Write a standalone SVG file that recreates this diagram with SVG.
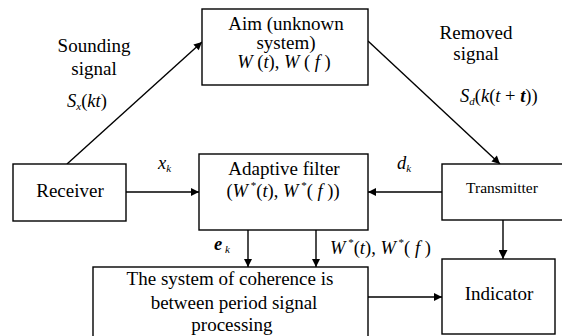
<svg xmlns="http://www.w3.org/2000/svg" width="562" height="336" viewBox="0 0 562 336">
<style>
  .box { fill: #fff; stroke: #000; stroke-width: 1.4; }
  text { font-family: "Liberation Serif", "Times New Roman", serif; fill: #000; }
  .t { font-size: 19px; text-anchor: middle; }
  .m { font-size: 18.5px; }
  .c { text-anchor: middle; }
  .i { font-style: italic; }
  .sub { font-size: 11px; font-style: italic; }
  .sup { font-size: 11px; }
  .ln { stroke: #000; stroke-width: 1.4; fill: none; }
</style>
<defs>
  <marker id="ah" viewBox="0 0 10 10" refX="10" refY="5" markerWidth="9" markerHeight="8" markerUnits="userSpaceOnUse" orient="auto">
    <path d="M0,0 L10,5 L0,10 z" fill="#000"/>
  </marker>
  <marker id="ah2" viewBox="0 0 10 10" refX="10" refY="5" markerWidth="10" markerHeight="9" markerUnits="userSpaceOnUse" orient="auto">
    <path d="M0,0 L10,5 L0,10 z" fill="#000"/>
  </marker>
</defs>

<g id="connectors">
  <line class="ln" x1="67" y1="164" x2="202" y2="42" marker-end="url(#ah)"/>
  <line class="ln" x1="368" y1="41" x2="500" y2="164" marker-end="url(#ah)"/>
  <line class="ln" x1="126" y1="192" x2="199" y2="192" marker-end="url(#ah)"/>
  <line class="ln" x1="442" y1="192" x2="368" y2="192" marker-end="url(#ah)"/>
  <line class="ln" x1="248" y1="230" x2="248" y2="267" marker-end="url(#ah)"/>
  <line class="ln" x1="316" y1="230" x2="316" y2="267" marker-end="url(#ah)"/>
  <line class="ln" x1="503" y1="220" x2="503" y2="259" stroke-width="2" marker-end="url(#ah2)"/>
  <line class="ln" x1="368" y1="297" x2="442" y2="297" marker-end="url(#ah)"/>
</g>

<g id="aim">
  <rect class="box" x="202" y="9" width="166" height="76"/>
  <text class="t" x="286" y="30">Aim (unknown</text>
  <text class="t" x="286" y="49">system)</text>
  <text class="m c" x="284" y="68"><tspan class="i">W</tspan> (<tspan class="i">t</tspan>), <tspan class="i">W</tspan> ( <tspan class="i">f</tspan> )</text>
</g>

<g id="receiver">
  <rect class="box" x="13" y="164" width="113" height="57"/>
  <text class="t" x="70" y="197">Receiver</text>
</g>

<g id="adaptive">
  <rect class="box" x="199" y="154" width="169" height="76"/>
  <text class="t" x="284" y="175">Adaptive filter</text>
  <text class="m c" x="283" y="197">(<tspan class="i">W</tspan><tspan class="sup" dy="-8"> *</tspan><tspan dy="8">(</tspan><tspan class="i">t</tspan>), <tspan class="i">W</tspan><tspan class="sup" dy="-8"> *</tspan><tspan dy="8">( </tspan><tspan class="i">f</tspan> ))</text>
</g>

<g id="transmitter">
  <rect class="box" x="442" y="164" width="121" height="56"/>
  <text class="t" x="502" y="193" style="font-size:15.5px">Transmitter</text>
</g>

<g id="coherence">
  <rect class="box" x="93" y="267" width="275" height="74"/>
  <text class="t" x="230" y="285">The system of coherence is</text>
  <text class="t" x="234" y="309">between period signal</text>
  <text class="t" x="232" y="331">processing</text>
</g>

<g id="indicator">
  <rect class="box" x="442" y="259" width="113" height="75"/>
  <text class="t" x="499" y="300">Indicator</text>
</g>

<g id="labels">
  <text class="t" x="94" y="52">Sounding</text>
  <text class="t" x="94" y="75">signal</text>
  <text class="m" x="67" y="107"><tspan class="i">S</tspan><tspan class="sub" dy="3">x</tspan><tspan dy="-3">(</tspan><tspan class="i">kt</tspan>)</text>
  <text class="t" x="476" y="39">Removed</text>
  <text class="t" x="476" y="60">signal</text>
  <text class="m" x="460" y="102"><tspan class="i">S</tspan><tspan class="sub" dy="3">d</tspan><tspan dy="-3">(</tspan><tspan class="i">k</tspan>(<tspan class="i">t</tspan> + <tspan font-weight="bold" class="i">t</tspan>))</text>
  <text class="m" x="158" y="169"><tspan class="i">x</tspan><tspan class="sub" dy="3">k</tspan></text>
  <text class="m" x="397" y="169"><tspan class="i">d</tspan><tspan class="sub" dy="3">k</tspan></text>
  <text class="m" x="214" y="250"><tspan class="i" font-weight="bold">e</tspan><tspan class="sub" dy="3"> k</tspan></text>
  <text class="m" x="330" y="254"><tspan class="i">W</tspan><tspan class="sup" dy="-8"> *</tspan><tspan dy="8">(</tspan><tspan class="i">t</tspan>), <tspan class="i">W</tspan><tspan class="sup" dy="-8"> *</tspan><tspan dy="8">( </tspan><tspan class="i">f</tspan> )</text>
</g>
</svg>
